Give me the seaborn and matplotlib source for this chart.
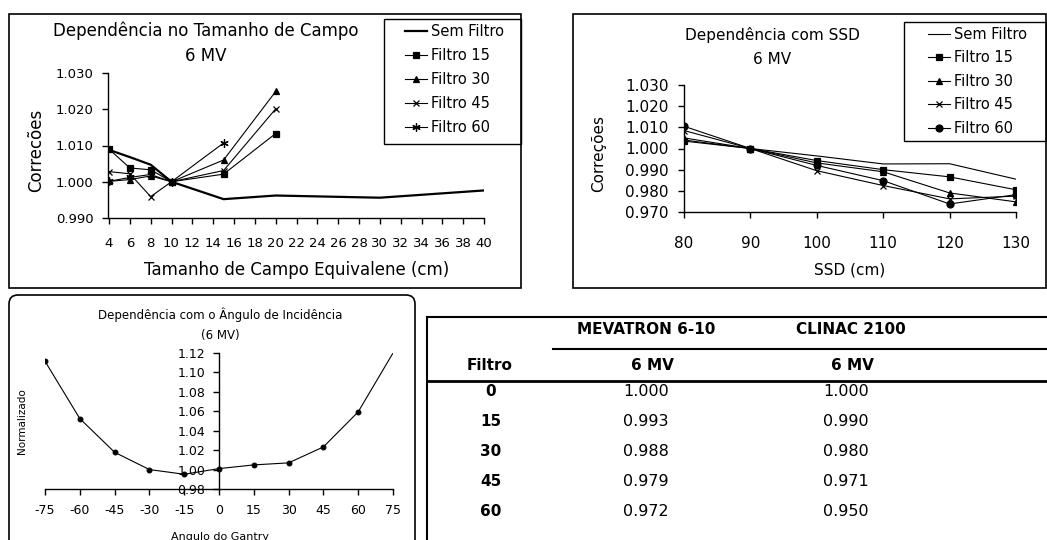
import matplotlib
matplotlib.use('Agg')
import matplotlib.pyplot as plt
import seaborn as sns
import numpy as np
import pandas as pd
from matplotlib.transforms import Affine2D
from matplotlib.patches import Rectangle, FancyBboxPatch
from matplotlib.lines import Line2D

# --- data: field size dependence (6 MV)
campo = [4, 6, 8, 10, 15, 20, 30, 40]
campo_f = [4, 6, 8, 10, 15, 20]
campo_f60 = [4, 6, 8, 10, 15]
sem_campo = [1.0088, 1.0068, 1.0047, 1.0000, 0.9952, 0.9962, 0.9956, 0.9976]
f15_campo = [1.0090, 1.0038, 1.0033, 1.0000, 1.0021, 1.0133]
f30_campo = [1.0001, 1.0006, 1.0016, 1.0000, 1.0060, 1.0249]
f45_campo = [1.0028, 1.0022, 0.9959, 1.0000, 1.0031, 1.0201]
f60_campo = [1.0001, 1.0012, 1.0020, 1.0000, 1.0107]

# --- data: SSD dependence (6 MV)
ssd = [80, 90, 100, 110, 120, 130]
sem_ssd = [1.0040, 1.0000, 0.9965, 0.9927, 0.9928, 0.9855]
f15_ssd = [1.0035, 1.0000, 0.9943, 0.9900, 0.9866, 0.9805]
f30_ssd = [1.0050, 1.0000, 0.9932, 0.9890, 0.9790, 0.9748]
f45_ssd = [1.0085, 1.0000, 0.9895, 0.9825, 0.9762, 0.9775]
f60_ssd = [1.0105, 1.0000, 0.9920, 0.9848, 0.9738, 0.9782]

# --- data: incidence angle
angulos = [-75, -60, -45, -30, -15, 0, 15, 30, 45, 60, 75]
normalizado = [1.1115, 1.0525, 1.0178, 1.0000, 0.9952, 1.0010, 1.0048, 1.0069, 1.0233, 1.0594, 1.1200]

# --- table
filtros = ['0', '15', '30', '45', '60']
mevatron = ['1.000', '0.993', '0.988', '0.979', '0.972']
clinac = ['1.000', '0.990', '0.980', '0.971', '0.950']

plt.rcParams['font.family'] = ['DejaVu Sans']
plt.rcParams['axes.unicode_minus'] = False

W, H = 1047, 540
fig = plt.figure(figsize=(W / 100, H / 100), dpi=100)
pix = Affine2D().scale(1 / W, -1 / H).translate(0, 1) + fig.transFigure


def rect(x0, y0, x1, y1):
    return [x0 / W, 1 - y1 / H, (x1 - x0) / W, (y1 - y0) / H]


def txt(x, y, s, size, **kw):
    fig.text(x, y, s, transform=pix, fontsize=size, ha=kw.pop('ha', 'center'),
             va=kw.pop('va', 'center'), **kw)


def hline(x0, x1, y, lw=1.0):
    fig.add_artist(Line2D([x0, x1], [y, y], transform=pix, color='black', lw=lw))


def vline(x, y0, y1, lw=1.0):
    fig.add_artist(Line2D([x, x], [y0, y1], transform=pix, color='black', lw=lw))


def style_ax(ax, fs, pad_x, pad_y):
    ax.set_facecolor('none')
    for s in ['top', 'right']:
        ax.spines[s].set_visible(False)
    for s in ['left', 'bottom']:
        ax.spines[s].set_linewidth(1.0)
    ax.tick_params(axis='x', direction='out', length=4, width=1, labelsize=fs, pad=pad_x)
    ax.tick_params(axis='y', direction='out', length=4, width=1, labelsize=fs, pad=pad_y)
    ax.set_xlabel('')
    ax.set_ylabel('')


def series(ax, x, y, label, marker, lw=0.8, ms=5):
    sns.lineplot(x=x, y=y, ax=ax, color='black', lw=lw, marker=marker, markersize=ms,
                 markeredgecolor='black', markerfacecolor='black', markeredgewidth=0.9,
                 label=label, errorbar=None)


star = (6, 2, 0)

# ---------------- chart 1
fig.add_artist(Rectangle((9, 14), 512, 274, transform=pix, fill=False, lw=1.2, ec='black'))
ax1 = fig.add_axes(rect(109, 73, 484, 218))
series(ax1, campo, sem_campo, 'Sem Filtro', None, lw=1.6)
series(ax1, campo_f, f15_campo, 'Filtro 15', 's')
series(ax1, campo_f, f30_campo, 'Filtro 30', '^')
series(ax1, campo_f, f45_campo, 'Filtro 45', 'x')
series(ax1, campo_f60, f60_campo, 'Filtro 60', star, ms=6)
ax1.set_xlim(4, 40)
ax1.set_ylim(0.990, 1.030)
ax1.set_xticks(range(4, 41, 2))
ax1.set_yticks([0.990, 1.000, 1.010, 1.020, 1.030])
ax1.yaxis.set_major_formatter(matplotlib.ticker.FormatStrFormatter('%.3f'))
style_ax(ax1, 9.5, 10, 6)
ax1.spines['left'].set_position(('outward', 1))
txt(206, 31, 'Dependência no Tamanho de Campo', 12)
txt(206, 56, '6 MV', 12)
txt(297, 270, 'Tamanho de Campo Equivalene (cm)', 12)
txt(36, 150, 'Correcões', 12, rotation=90)
fig.add_artist(Rectangle((384, 19), 137, 125, transform=pix, fill=False, lw=1.0, ec='black'))
h, l = ax1.get_legend_handles_labels()
ax1.legend(h, l, frameon=False, loc='upper left', bbox_to_anchor=(405, 24),
           bbox_transform=pix, fontsize=10.5, borderpad=0, borderaxespad=0,
           handlelength=1.5, handletextpad=0.25, labelspacing=0.62)

# ---------------- chart 2
fig.add_artist(Rectangle((573, 14), 473, 274, transform=pix, fill=False, lw=1.2, ec='black'))
ax2 = fig.add_axes(rect(684, 85, 1016, 212))
series(ax2, ssd, sem_ssd, 'Sem Filtro', None, lw=0.8)
series(ax2, ssd, f15_ssd, 'Filtro 15', 's')
series(ax2, ssd, f30_ssd, 'Filtro 30', '^')
series(ax2, ssd, f45_ssd, 'Filtro 45', 'x')
series(ax2, ssd, f60_ssd, 'Filtro 60', 'o')
ax2.set_xlim(80, 130)
ax2.set_ylim(0.970, 1.030)
ax2.set_xticks(ssd)
ax2.set_yticks([0.970, 0.980, 0.990, 1.000, 1.010, 1.020, 1.030])
ax2.yaxis.set_major_formatter(matplotlib.ticker.FormatStrFormatter('%.3f'))
style_ax(ax2, 11, 13, 7)
txt(772, 35, 'Dependência com SSD', 11)
txt(772, 59, '6 MV', 11)
txt(850, 270, 'SSD (cm)', 11)
txt(599, 153, 'Correções', 11, rotation=90)
fig.add_artist(Rectangle((904, 22), 142, 119, transform=pix, fill=False, lw=1.0, ec='black'))
h, l = ax2.get_legend_handles_labels()
ax2.legend(h, l, frameon=False, loc='upper left', bbox_to_anchor=(928, 27),
           bbox_transform=pix, fontsize=10.5, borderpad=0, borderaxespad=0,
           handlelength=1.5, handletextpad=0.25, labelspacing=0.58)

# ---------------- chart 3
fig.add_artist(FancyBboxPatch((9, 295), 406, 260, transform=pix, fill=False, lw=1.2,
                              ec='black', boxstyle='round,pad=0,rounding_size=9'))
ax3 = fig.add_axes(rect(45, 353, 393, 489))
sns.lineplot(x=angulos, y=normalizado, ax=ax3, color='black', lw=0.8, marker='o',
             markersize=3.5, markeredgecolor='black', markerfacecolor='black',
             markevery=list(range(len(angulos) - 1)), errorbar=None)
ax3.set_xlim(-75, 75)
ax3.set_ylim(0.98, 1.12)
ax3.set_xticks(angulos)
ax3.set_yticks(np.arange(0.98, 1.121, 0.02))
ax3.yaxis.set_major_formatter(matplotlib.ticker.FormatStrFormatter('%.2f'))
style_ax(ax3, 9, 7, 6)
ax3.spines['left'].set_position(('data', 0))
txt(220, 315, 'Dependência com o Ângulo de Incidência', 8.5)
txt(220, 335, '(6 MV)', 8.5)
txt(220, 537, 'Angulo do Gantry', 8)
txt(22, 421, 'Normalizado', 7.5, rotation=90)

# ---------------- table
hline(427, 1047, 317, lw=1.5)
vline(427, 317, 540, lw=1.5)
hline(553, 1047, 349, lw=1.5)
hline(427, 1047, 381, lw=2.0)
txt(646, 329, 'MEVATRON 6-10', 11, fontweight='bold')
txt(851, 329, 'CLINAC 2100', 11, fontweight='bold')
txt(490, 365, 'Filtro', 11, fontweight='bold')
txt(652, 365, '6 MV', 11, fontweight='bold')
txt(852, 365, '6 MV', 11, fontweight='bold')
for i, (f, m, c) in enumerate(zip(filtros, mevatron, clinac)):
    y = 392 + i * 29.8
    txt(491, y, f, 11, fontweight='bold')
    txt(646, y, m, 11.5)
    txt(846, y, c, 11.5)

fig.savefig('out.png', dpi=100)
